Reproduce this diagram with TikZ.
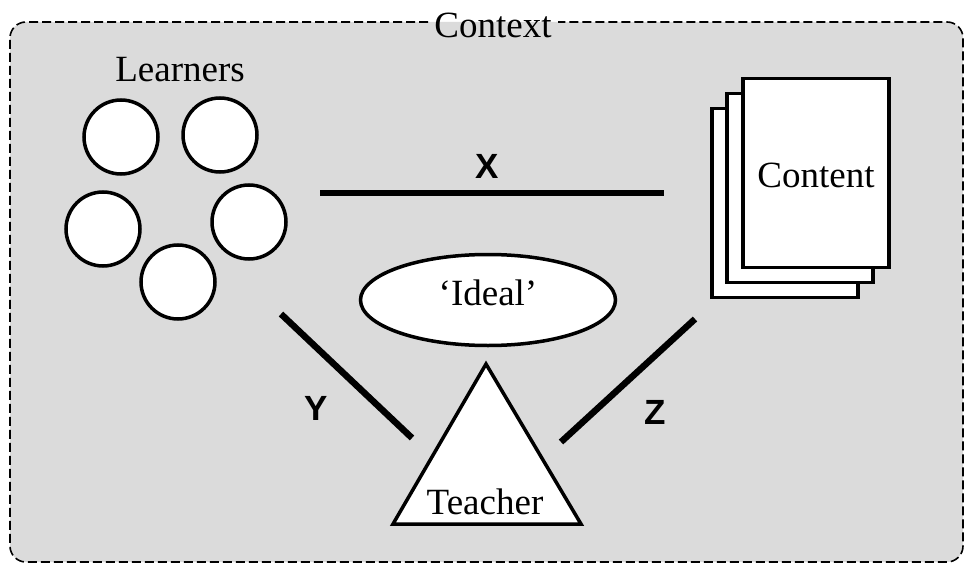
\documentclass[tikz,border=0pt]{standalone}
\usepackage{fontspec}
\setmainfont{Liberation Serif}
\newfontfamily\lsans{Liberation Sans}
\usetikzlibrary{shapes.geometric}
\definecolor{bgdot}{gray}{0.86}
\tikzset{
  lbl/.style={font=\fontsize{37}{42}\selectfont, inner sep=0pt},
  letter/.style={font=\lsans\bfseries\fontsize{35}{38}\selectfont, inner sep=0pt},
  learner/.style={circle, draw, line width=3.5pt, fill=white, minimum size=74pt, inner sep=0pt},
  page/.style={rectangle, draw, line width=3.5pt, fill=white, minimum width=146pt, minimum height=189pt, inner sep=0pt},
  link/.style={line width=6.5pt},
}
\begin{document}
\begin{tikzpicture}[x=1pt,y=-1pt]
\useasboundingbox (0,0) rectangle (969,567);
% context frame
\fill[bgdot, rounded corners=16pt] (10,22) rectangle (963,562);
\draw[line width=1.6pt, dash pattern=on 9pt off 4pt, rounded corners=16pt]
  (428,22) -- (10,22) -- (10,562) -- (963,562) -- (963,22) -- (558,22);
\node[lbl] (context) at (493,25) {Context};
% learners
\node[lbl] (learners) at (180,70) {Learners};
\node[learner] (c1) at (121,137) {};
\node[learner] (c2) at (220,135) {};
\node[learner] (c3) at (103,229) {};
\node[learner] (c4) at (249,222) {};
\node[learner] (c5) at (178,282) {};
% content pages
\node[page] (p3) at (785,203) {};
\node[page] (p2) at (800,188) {};
\node[page] (p1) at (816,173) {};
\node[lbl] (content) at (816,175) {Content};
% ideal
\node[ellipse, draw, line width=3.5pt, fill=white, minimum width=255pt, minimum height=91pt, inner sep=0pt] (ideal) at (488,300) {};
\node[lbl] (idealtxt) at (488,293) {‘Ideal’};
% teacher triangle
\coordinate (tA) at (486,364);
\coordinate (tL) at (393,524);
\coordinate (tR) at (581,524);
\draw[line width=3.5pt, fill=white, line join=miter] (tA) -- (tL) -- (tR) -- cycle;
\node[lbl] (teacher) at (485,502) {Teacher};
% connectors
\coordinate (x1) at (320,193);
\coordinate (x2) at (664,193);
\coordinate (y1) at (281,314);
\coordinate (y2) at (412,438);
\coordinate (z1) at (561,442);
\coordinate (z2) at (695,319);
\draw[link] (x1) -- (x2);
\draw[link] (y1) -- (y2);
\draw[link] (z1) -- (z2);
\node[letter] (X) at (487,166) {X};
\node[letter] (Y) at (316,408) {Y};
\node[letter] (Z) at (655,412) {Z};
\end{tikzpicture}
\end{document}
